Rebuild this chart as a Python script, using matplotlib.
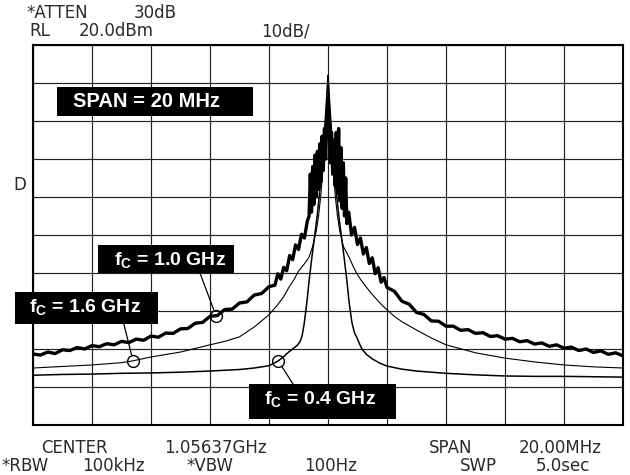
import matplotlib.pyplot as plt

plt.rcParams['mathtext.fontset'] = 'custom'
plt.rcParams['mathtext.bf'] = 'Liberation Sans:bold'
plt.rcParams['mathtext.rm'] = 'Liberation Sans'

# offset from centre frequency (MHz) and level (dBm)
thick_mhz = [-10, -9.75, -9.5, -9.25, -9, -8.75, -8.5, -8.25, -8, -7.75, -7.5, -7.25,
             -7, -6.75, -6.5, -6.25, -6, -5.75, -5.5, -5.25, -5, -4.75, -4.5, -4.25,
             -4, -3.75, -3.5, -3.25, -3, -2.75, -2.5, -2.25, -2, -1.8, -1.7, -1.6,
             -1.5, -1.4, -1.3, -1.2, -1.1, -1.0, -0.9, -0.8, -0.7,
             -0.64, -0.6, -0.56, -0.52, -0.48, -0.44, -0.4, -0.36, -0.32, -0.28, -0.24,
             -0.2, -0.16, -0.12, -0.08, -0.04, 0,
             0.04, 0.08, 0.12, 0.16, 0.2, 0.24, 0.28, 0.32, 0.36, 0.4, 0.44, 0.48,
             0.52, 0.56, 0.6, 0.64,
             0.7, 0.8, 0.9, 1.0, 1.1, 1.2, 1.3, 1.4, 1.5, 1.6, 1.7, 1.8, 1.9,
             2, 2.25, 2.5, 2.75, 3, 3.25, 3.5, 3.75, 4, 4.25, 4.5, 4.75, 5, 5.25,
             5.5, 5.75, 6, 6.25, 6.5, 6.75, 7, 7.25, 7.5, 7.75, 8, 8.25, 8.5, 8.75,
             9, 9.25, 9.5, 9.75, 10]
thick_dbm = [-61.3, -61.6, -60.8, -61.2, -60.2, -60.4, -59.6, -60.0, -59.1, -59.4, -58.6, -58.9,
             -58.0, -58.3, -57.4, -57.7, -56.6, -56.9, -55.8, -55.9, -54.7, -54.6, -53.2, -53.0,
             -51.4, -51.2, -49.6, -49.5, -47.9, -47.6, -45.8, -45.4, -43.6, -43.2, -40.2, -41.6,
             -38.5, -39.4, -35.4, -36.5, -32.6, -33.8, -29.8, -30.8, -26.3,
             -25, -14, -24, -12, -22, -9, -20, -8, -18, -6, -16,
             -4, -13, -2, -10, 1, 6,
             0, -11, -3, -14, -5, -17, -3, -19, -2, -21, -7, -23,
             -11, -25, -15, -27,
             -24, -30, -28, -32.5, -30.8, -35, -33.3, -37.5, -36, -40.2, -38.6, -42.4, -41.2,
             -43.8, -44.8, -47.4, -48.2, -50.4, -50.9, -52.6, -52.7, -54.0, -54.0, -55.1, -54.9,
             -55.9, -55.7, -56.7, -56.5, -57.4, -57.2, -58.1, -57.8, -58.7, -58.4, -59.3, -58.9,
             -59.8, -59.5, -60.4, -60.0, -60.9, -60.5, -61.4, -61.0, -61.8]

mid_mhz = [-10, -9, -8, -7, -6.6, -6, -5, -4, -3.5, -3, -2.5, -2, -1.7, -1.5, -1.32, -1.15,
           -1.0, -0.8, -0.64, -0.52, -0.4, -0.32, -0.25, -0.12, 0, 0.12, 0.25, 0.32, 0.4,
           0.52, 0.71, 0.85, 1.0, 1.15, 1.3, 1.45, 1.6, 1.8, 2.0, 2.25, 2.5, 3.0, 3.5, 4.0,
           5.0, 6.0, 7.0, 8.0, 9.0, 10]
mid_dbm = [-65.0, -64.6, -64.2, -63.6, -63.1, -62.1, -60.8, -58.9, -58.0, -56.8, -54.2,
           -51.0, -48.3, -46.2, -43.7, -41.7, -39.5, -37.6, -35.8, -33, -29, -25, -20, -8,
           12, -8, -20, -25, -29, -33, -35.8, -38.2, -40.5, -42.2, -43.7, -45.2, -46.5,
           -48.2, -49.7, -51.4, -52.8, -55.0, -57.1, -58.9, -61.0, -62.4, -63.4, -64.2,
           -64.7, -65.0]

low_mhz = [-10, -9, -8, -7, -6, -5, -4, -3, -2.5, -2, -1.68, -1.5, -1.35, -1.2, -1.05,
           -0.95, -0.88, -0.81, -0.72, -0.64, -0.54, -0.44, -0.36, -0.3, -0.22, -0.15,
           -0.07, 0, 0.07, 0.15, 0.22, 0.3, 0.36, 0.44, 0.54, 0.64, 0.72, 0.81, 0.9, 0.98,
           1.05, 1.15, 1.3, 1.5, 1.75, 2, 2.5, 3, 4, 5, 6, 7, 8, 9, 10]
low_dbm = [-66.9, -66.7, -66.6, -66.4, -66.3, -66.1, -65.8, -65.4, -65.0, -64.4, -63.1,
           -62.0, -60.9, -60.0, -59.1, -58.1, -56.6, -53.5, -48.0, -42.0, -35.5, -29.5,
           -24.5, -20, -13, -6, 3, 12, 3, -6, -13, -20, -24.5, -29.5, -35.5, -42.0, -48.0,
           -53.0, -55.8, -57.0, -58.3, -60.0, -61.4, -62.6, -63.7, -64.5, -65.3, -65.8,
           -66.4, -66.8, -67.1, -67.2, -67.2, -67.3, -67.4]

labels = ['1.0', '1.6', '0.4']
marker_mhz = [-3.79, -6.61, -1.68]
marker_dbm = [-51.4, -63.1, -63.2]

fig = plt.figure(figsize=(6.3, 4.75), dpi=100)
ax = fig.add_axes([33 / 630, 50 / 475, 590 / 630, 380 / 475])

ax.plot(low_mhz, low_dbm, color='black', lw=1.1)
ax.plot(mid_mhz, mid_dbm, color='black', lw=0.8)
ax.plot(thick_mhz, thick_dbm, color='black', lw=2.4, solid_joinstyle='round')
ax.plot(marker_mhz, marker_dbm, 'o', ms=8.5, mfc='none', mec='black', mew=1.0)

ax.set_xlim(-10, 10)
ax.set_ylim(-80, 20)
ax.set_xticks(range(-10, 11, 2))
ax.set_yticks(range(-80, 21, 10))
ax.tick_params(length=0, labelbottom=False, labelleft=False)
ax.grid(True, color='#222222', lw=0.85)
for s in ax.spines.values():
    s.set_linewidth(1.5)

# black label boxes (axes fraction): x0, y0, w, h, text x, text y
boxes = [
    (0.0407, 0.8132, 0.3322, 0.0763, 0.193, 0.8513, 'SPAN = 20 MHz', 'center'),
    (0.1102, 0.4000, 0.2305, 0.0737, 0.232, 0.421, r'$\mathbf{f_C}$ = 1.0 GHz', 'baseline'),
    (-0.0305, 0.2658, 0.2424, 0.0842, 0.089, 0.2974, r'$\mathbf{f_C}$ = 1.6 GHz', 'baseline'),
    (0.3661, 0.0158, 0.2492, 0.0921, 0.4873, 0.0553, r'$\mathbf{f_C}$ = 0.4 GHz', 'baseline'),
]
for x0, y0, w, h, tx, ty, txt, va in boxes:
    ax.add_patch(plt.Rectangle((x0, y0), w, h, transform=ax.transAxes,
                               facecolor='black', edgecolor='none', clip_on=False, zorder=5))
    ax.text(tx, ty, txt, transform=ax.transAxes, ha='center', va=va, color='white',
            fontsize=14.5 if txt.startswith('SPAN') else 14, fontweight='bold',
            family='Liberation Sans', zorder=6)

# leader lines from box edge to circle
starts = [(0.283, 0.400), (0.154, 0.2658), (0.4407, 0.1079)]
for (sx, sy), mx, my in zip(starts, marker_mhz, marker_dbm):
    ax.annotate('', xy=(mx, my), xytext=(sx, sy), textcoords='axes fraction',
                arrowprops=dict(arrowstyle='-', color='black', lw=0.9, shrinkA=0, shrinkB=4.5))

# instrument annotation, word by word (centre x px, baseline y px)
words = [('*ATTEN', 57, 18), ('30dB', 155, 18), ('RL', 40, 36), ('20.0dBm', 116, 36),
         ('10dB/', 285, 36), ('D', 20, 190),
         ('CENTER', 74, 453), ('1.05637GHz', 215, 453), ('SPAN', 451, 453), ('20.00MHz', 560, 453),
         ('*RBW', 25, 471), ('100kHz', 113, 471), ('*VBW', 210, 471), ('100Hz', 331, 471),
         ('SWP', 478, 471), ('5.0sec', 563, 471)]
for w, px, py in words:
    fig.text(px / 630, 1 - py / 475, w, ha='center', va='baseline', fontsize=12,
             family='DejaVu Sans', color='#2a2a2a')

fig.savefig('out.png', dpi=100)
